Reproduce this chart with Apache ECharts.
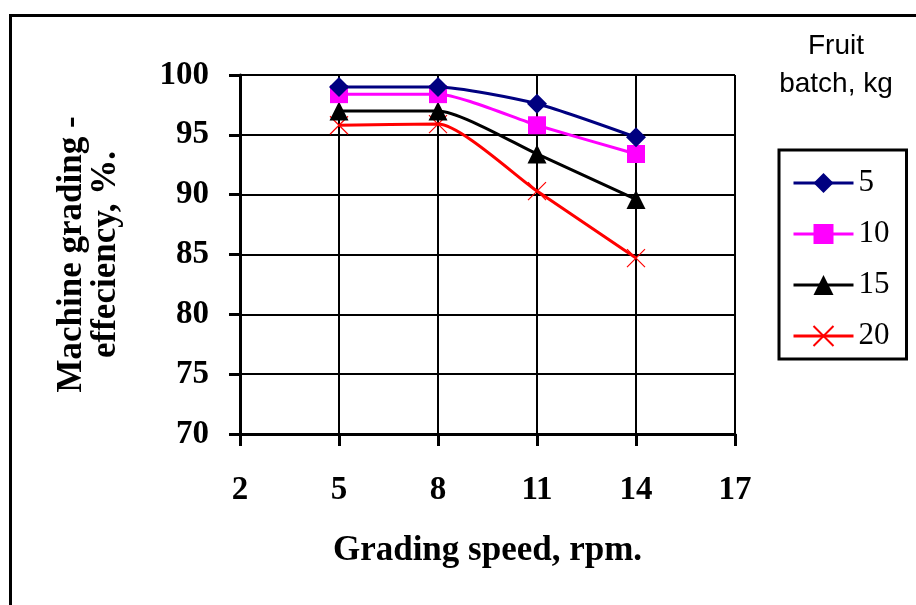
<!DOCTYPE html>
<html>
<head>
<meta charset="utf-8">
<script src="https://cdn.jsdelivr.net/npm/echarts@6/dist/echarts.min.js"></script>
<style>
  html, body { margin: 0; padding: 0; background: #fff; }
  #chart { width: 916px; height: 605px; }
</style>
</head>
<body>
<div id="chart"></div>
<script>
(function (echarts) {
    'use strict';

    // grading speed, rpm
    const speeds = [5, 8, 11, 14];
    const xTicks = [2, 5, 8, 11, 14, 17];
    const yTicks = [70, 75, 80, 85, 90, 95, 100];

    // fruit batch, kg
    const batches = ['5', '10', '15', '20'];
    const eff5 = [99.0, 99.0, 97.6, 94.8];
    const eff10 = [98.4, 98.4, 95.8, 93.4];
    const eff15 = [97.0, 97.0, 93.4, 89.6];
    const eff20 = [95.8, 95.9, 90.3, 84.7];

    const serif = '"Liberation Serif", "Times New Roman", serif';
    const sans = '"Liberation Sans", Arial, sans-serif';

    const pairs = vals => speeds.map((s, i) => [s, vals[i]]);
    const crossPath = 'path://M0,0L10,10M10,0L0,10';

    const styles = [
        { color: '#000080', symbol: 'diamond', size: 20 },
        { color: '#ff00ff', symbol: 'rect', size: 18 },
        { color: '#000000', symbol: 'triangle', size: 19 },
        { color: '#ff0000', symbol: crossPath, size: 18 }
    ];
    const values = [eff5, eff10, eff15, eff20];

    const series = batches.map((name, i) => {
        const st = styles[i];
        const isCross = st.symbol === crossPath;
        return {
            name: name,
            type: 'line',
            smooth: 0.2,
            data: pairs(values[i]),
            symbol: st.symbol,
            symbolSize: st.size,
            lineStyle: { color: st.color, width: 3 },
            itemStyle: isCross
                ? { color: st.color, borderColor: st.color, borderWidth: 1.2 }
                : { color: st.color, borderWidth: 0 },
            z: 10 - i
        };
    });

    const chart = echarts.init(document.getElementById('chart'));
    chart.setOption({
        animation: false,
        backgroundColor: '#ffffff',
        title: {
            text: 'Fruit\nbatch, kg',
            left: 836,
            top: 27,
            textAlign: 'center',
            padding: 0,
            textStyle: {
                fontFamily: sans,
                fontWeight: 'normal',
                fontSize: 28,
                lineHeight: 38,
                color: '#000'
            }
        },
        legend: {
            orient: 'vertical',
            left: 779,
            top: 150,
            padding: [17, 17, 7, 13],
            itemGap: 19,
            itemWidth: 60,
            itemHeight: 25,
            borderColor: '#000',
            borderWidth: 3,
            lineStyle: { width: 3 },
            textStyle: {
                fontFamily: serif,
                fontSize: 31,
                lineHeight: 32,
                color: '#000'
            },
            data: batches
        },
        graphic: [{
            type: 'rect',
            left: 8,
            top: 13,
            shape: { width: 1200, height: 1000 },
            style: { fill: 'none', stroke: '#000', lineWidth: 3 },
            silent: true
        }],
        grid: { left: 240, right: 181, top: 75, bottom: 171 },
        xAxis: {
            type: 'value',
            min: xTicks[0],
            max: xTicks[xTicks.length - 1],
            interval: 3,
            name: 'Grading speed, rpm.',
            nameLocation: 'middle',
            nameGap: 99,
            nameTextStyle: { fontFamily: serif, fontWeight: 'bold', fontSize: 35, color: '#000' },
            axisLine: { show: true, onZero: false, lineStyle: { color: '#000', width: 3 } },
            axisTick: { show: true, length: 12, lineStyle: { color: '#000', width: 3 } },
            axisLabel: { margin: 40, fontFamily: serif, fontWeight: 'bold', fontSize: 33, color: '#000' },
            splitLine: { show: true, lineStyle: { color: '#000', width: 2 } }
        },
        yAxis: {
            type: 'value',
            min: yTicks[0],
            max: yTicks[yTicks.length - 1],
            interval: 5,
            name: 'Machine grading -\neffeciency, %.',
            nameLocation: 'middle',
            nameRotate: 90,
            nameGap: 117,
            nameTextStyle: { fontFamily: serif, fontWeight: 'bold', fontSize: 35, lineHeight: 34, color: '#000' },
            axisLine: { show: true, lineStyle: { color: '#000', width: 3 } },
            axisTick: { show: true, length: 11, lineStyle: { color: '#000', width: 3 } },
            axisLabel: { margin: 31, fontFamily: serif, fontWeight: 'bold', fontSize: 33, color: '#000' },
            splitLine: { show: true, lineStyle: { color: '#000', width: 2 } }
        },
        series: series
    });
})(echarts);
</script>
</body>
</html>
